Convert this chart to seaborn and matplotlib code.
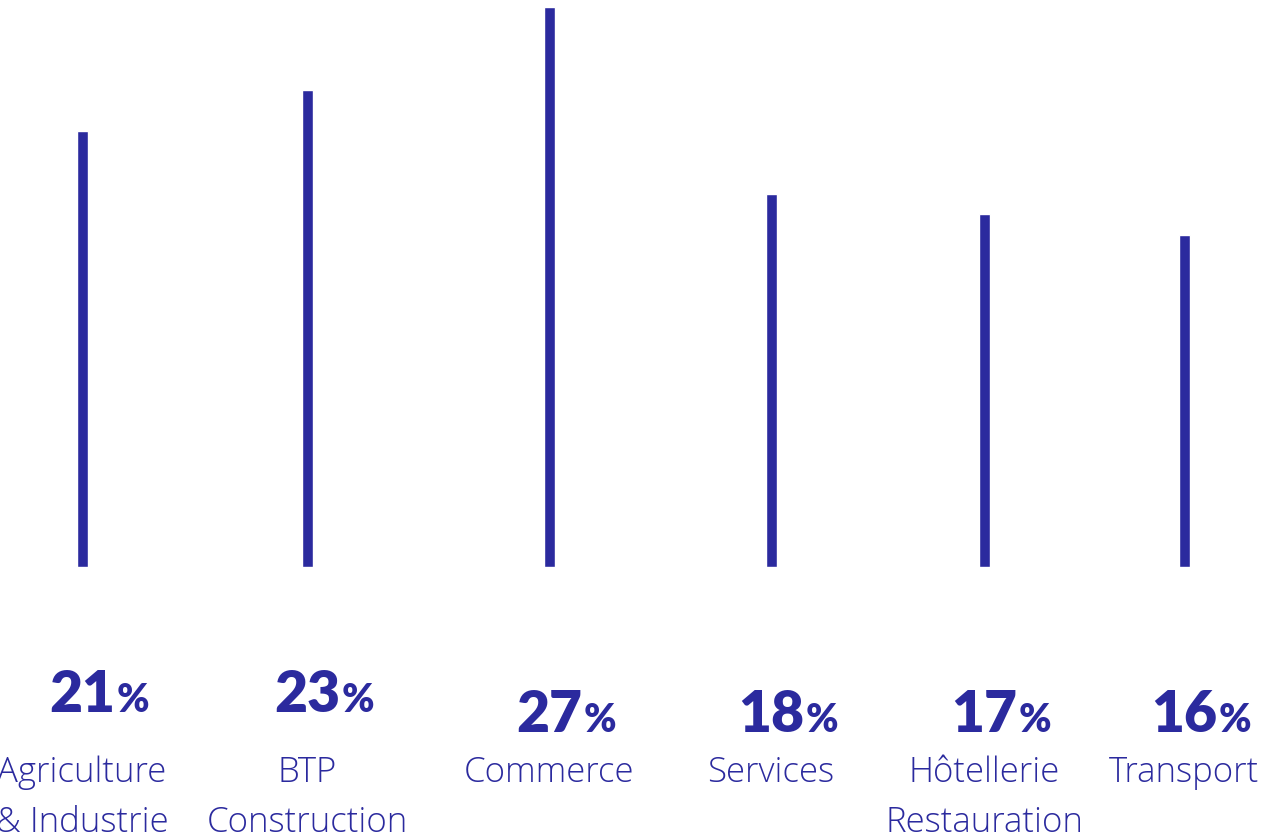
import matplotlib
matplotlib.use("Agg")
from matplotlib import pyplot as plt
from matplotlib import transforms
import seaborn as sns
import pandas as pd

# data
categories = [["Agriculture", "& Industrie"], ["BTP", "Construction"], ["Commerce"],
              ["Services"], ["Hôtellerie", "Restauration"], ["Transport"]]
values = [21, 23, 27, 18, 17, 16]
value_labels = ["21", "23", "27", "18", "17", "16"]

# layout (pixel positions of the bars in the original image)
positions = [82, 307, 549, 771, 984, 1184]
num_baseline = [712, 712, 732, 732, 732, 732]

color = "#2b2a9e"
W, H = 1286, 839

sns.set_style("white")
plt.rcParams['font.family'] = ['Open Sans', 'DejaVu Sans']

fig = plt.figure(figsize=(W / 100, H / 100), dpi=100)
ax = fig.add_axes([0, (H - 567) / H, 1, 567 / H])

df = pd.DataFrame({"pos": positions, "value": values})
sns.barplot(data=df, x="pos", y="value", native_scale=True, width=11 / 200,
            color=color, saturation=1, ax=ax)
ax.set_xlim(0, W)
ax.set_ylim(0, 27 * 567 / 560)
ax.axis("off")

tr = transforms.blended_transform_factory(ax.transData, fig.transFigure)

for pos, lab, base in zip(positions, value_labels, num_baseline):
    t = ax.text(pos, 1 - base / H, lab, transform=tr, ha="center", va="baseline",
                fontsize=41, fontweight="heavy", color=color, family=["Lato"])
    fig.canvas.draw()
    bb = t.get_window_extent()
    fig.text(bb.x1 / W + 0.001, 1 - base / H, "%", ha="left", va="baseline",
             fontsize=28, fontweight="heavy", color=color, family=["Lato"])

for pos, lines in zip(positions, categories):
    for i, line in enumerate(lines):
        ax.text(pos, 1 - (782 + 50 * i) / H, line, transform=tr, ha="center",
                va="baseline", fontsize=25, fontweight="light", color=color)

fig.savefig("out.png", dpi=100)
